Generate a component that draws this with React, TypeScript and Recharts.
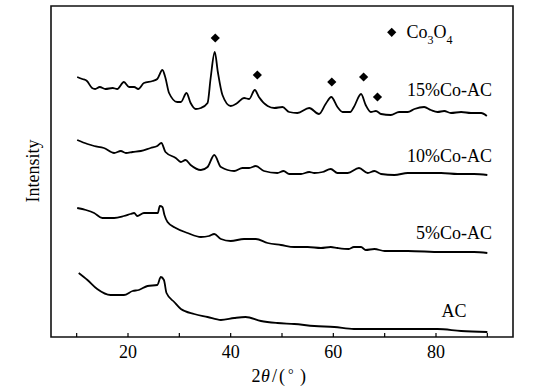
import { ComposedChart, Line, Scatter, XAxis, YAxis, ReferenceArea } from 'recharts';

// 2θ (deg) and stacked intensity
const co15Theta = [10.1, 11.1, 12.0, 13.0, 13.6, 14.5, 15.6, 17.0, 17.9, 19.2, 20.2, 21.2, 22.0, 23.1, 24.8, 25.7, 26.7, 27.3, 28.0, 29.6, 30.3, 31.4, 32.2, 33.2, 34.2, 35.5, 36.1, 36.9, 37.5, 38.4, 40.0, 41.3, 42.6, 43.6, 44.7, 45.5, 47.2, 48.5, 50.1, 51.4, 53.0, 55.3, 57.2, 58.5, 59.6, 60.8, 61.8, 63.3, 64.0, 65.4, 66.3, 67.3, 68.3, 69.3, 71.2, 72.8, 74.5, 75.8, 77.7, 79.0, 80.3, 81.6, 82.9, 84.9, 86.8, 88.8, 89.9];
const co15I = [260, 258, 256, 249, 248, 250, 248, 249, 248, 255, 250, 250, 248, 254, 256, 258, 267, 259, 244, 235, 235, 244, 234, 228, 229, 234, 259, 285, 265, 242, 231, 234, 239, 238, 247, 240, 231, 229, 230, 225, 224, 229, 223, 233, 240, 230, 225, 225, 230, 243, 232, 225, 226, 223, 222, 225, 225, 228, 230, 227, 225, 226, 224, 225, 224, 224, 221];

const co10Theta = [10.1, 12.1, 13.4, 15.3, 17.3, 18.6, 19.6, 20.9, 22.5, 24.4, 25.7, 26.5, 27.3, 29.3, 30.3, 31.2, 32.2, 34.2, 35.5, 36.8, 38.1, 40.7, 42.3, 43.6, 44.9, 46.5, 49.1, 50.3, 51.4, 53.7, 55.3, 56.3, 57.9, 59.5, 60.8, 62.8, 65.0, 66.7, 68.0, 69.3, 71.9, 74.5, 77.7, 81.0, 84.2, 87.4, 90.0];
const co10I = [197, 193, 191, 189, 184, 186, 184, 185, 186, 189, 191, 194, 185, 179, 175, 177, 172, 167, 170, 182, 170, 166, 169, 169, 171, 166, 164, 166, 163, 163, 165, 164, 165, 168, 164, 164, 169, 164, 166, 163, 162, 164, 164, 164, 163, 163, 162];

const co5Theta = [10.1, 11.8, 13.4, 15.0, 17.3, 19.2, 20.5, 21.2, 21.8, 23.1, 24.8, 25.8, 26.2, 26.7, 27.1, 27.7, 29.3, 31.6, 34.2, 35.8, 36.8, 38.1, 40.0, 42.6, 44.9, 47.2, 49.8, 52.4, 55.0, 57.6, 59.5, 60.8, 63.0, 64.0, 65.4, 66.3, 68.0, 70.0, 74.5, 81.0, 87.4, 90.0];
const co5I = [129, 127, 124, 119, 119, 121, 123, 124, 121, 124, 124, 124, 131, 130, 122, 115, 109, 104, 100, 101, 103, 98, 96, 98, 98, 94, 92, 90, 90, 89, 90, 89, 88, 90, 90, 87, 88, 86, 86, 85, 85, 84];

const acTheta = [10.4, 12.1, 14.0, 16.6, 19.2, 20.9, 22.1, 23.8, 25.7, 26.4, 27.0, 27.5, 29.0, 30.3, 32.9, 35.5, 38.1, 40.7, 42.9, 45.9, 49.1, 52.4, 56.3, 60.2, 64.0, 68.0, 71.9, 75.8, 80.3, 84.9, 90.0];
const acI = [64, 57, 48, 42, 42, 46, 47, 51, 52, 60, 57, 44, 35, 28, 23, 20, 17, 19, 20, 16, 14, 13, 11, 10, 8, 8, 8, 8, 8, 6, 5];

// Co3O4 reflections marked with diamonds
const peakTheta = [37.0, 45.2, 59.7, 65.9, 68.6];
const peakI = [299, 262, 255, 260, 240];

const xTicks = [10, 20, 30, 40, 50, 60, 70, 80, 90];

const toRows = (xs: number[], ys: number[]) => xs.map((x, i) => ({ x, y: ys[i] }));

const series = [
  { name: '15%Co-AC', data: toRows(co15Theta, co15I) },
  { name: '10%Co-AC', data: toRows(co10Theta, co10I) },
  { name: '5%Co-AC', data: toRows(co5Theta, co5I) },
  { name: 'AC', data: toRows(acTheta, acI) },
];

const FONT = "'Liberation Serif', 'Times New Roman', serif";

const Diamond = (props: any) => {
  const { cx, cy } = props;
  const r = 4.6;
  return <polygon points={`${cx},${cy - r} ${cx + r},${cy} ${cx},${cy + r} ${cx - r},${cy}`} fill="#000" />;
};

const Tick = (props: any) => {
  const { x, y, payload } = props;
  const showLabel = payload.value % 20 === 0;
  return (
    <g>
      <line x1={x} y1={y} x2={x} y2={y - 4} stroke="#000" strokeWidth={1.2} />
      {showLabel && (
        <text x={x} y={y + 21} textAnchor="middle" fontFamily={FONT} fontSize={18} fill="#000">
          {payload.value}
        </text>
      )}
    </g>
  );
};

export default function App() {
  return (
    <div style={{ position: 'absolute', left: 0, top: 0, width: 538, height: 390, background: '#fff' }}>
      <ComposedChart width={538} height={390} margin={{ top: 6, right: 25, left: 51, bottom: 23 }}>
        <XAxis
          dataKey="x"
          type="number"
          domain={[5, 95]}
          ticks={xTicks}
          allowDataOverflow
          height={30}
          axisLine={false}
          tickLine={false}
          tickSize={0}
          tickMargin={0}
          tick={<Tick />}
        />
        <YAxis dataKey="y" type="number" domain={[0, 331]} hide allowDataOverflow />
        <ReferenceArea x1={5} x2={95} y1={0} y2={331} fill="none" stroke="#111" strokeWidth={1.6} />
        {series.map((s) => (
          <Line
            key={s.name}
            data={s.data}
            dataKey="y"
            type="monotone"
            stroke="#000"
            strokeWidth={1.8}
            dot={false}
            isAnimationActive={false}
          />
        ))}
        <Scatter data={toRows(peakTheta, peakI)} dataKey="y" shape={<Diamond />} isAnimationActive={false} />
      </ComposedChart>
      <svg
        width={538}
        height={390}
        style={{ position: 'absolute', left: 0, top: 0, pointerEvents: 'none' }}
        fontFamily={FONT}
        fill="#000"
      >
        <polygon points="391.7,27.7 396.3,32.3 391.7,36.9 387.1,32.3" fill="#000" />
        <text x={406.5} y={37.5} fontSize={18}>
          Co<tspan fontSize={12} dy={6}>3</tspan>
          <tspan dy={-6}>O</tspan>
          <tspan fontSize={12} dy={6}>4</tspan>
        </text>
        <text x={492} y={96} fontSize={18} textAnchor="end">15%Co-AC</text>
        <text x={492} y={161.5} fontSize={18} textAnchor="end">10%Co-AC</text>
        <text x={492} y={239} fontSize={18} textAnchor="end">5%Co-AC</text>
        <text x={454} y={317} fontSize={18} textAnchor="middle">AC</text>
        <text x={38.5} y={171} fontSize={18} textAnchor="middle" transform="rotate(-90 38.5 171)">Intensity</text>
        <text y={382} fontSize={18}>
          <tspan x={251.5}>2</tspan>
          <tspan x={261} fontStyle="italic">θ</tspan>
          <tspan x={272}>/</tspan>
          <tspan x={279}>(</tspan>
          <tspan x={288} fontSize={14} dy={-3}>°</tspan>
          <tspan x={300} dy={3}>)</tspan>
        </text>
      </svg>
    </div>
  );
}
